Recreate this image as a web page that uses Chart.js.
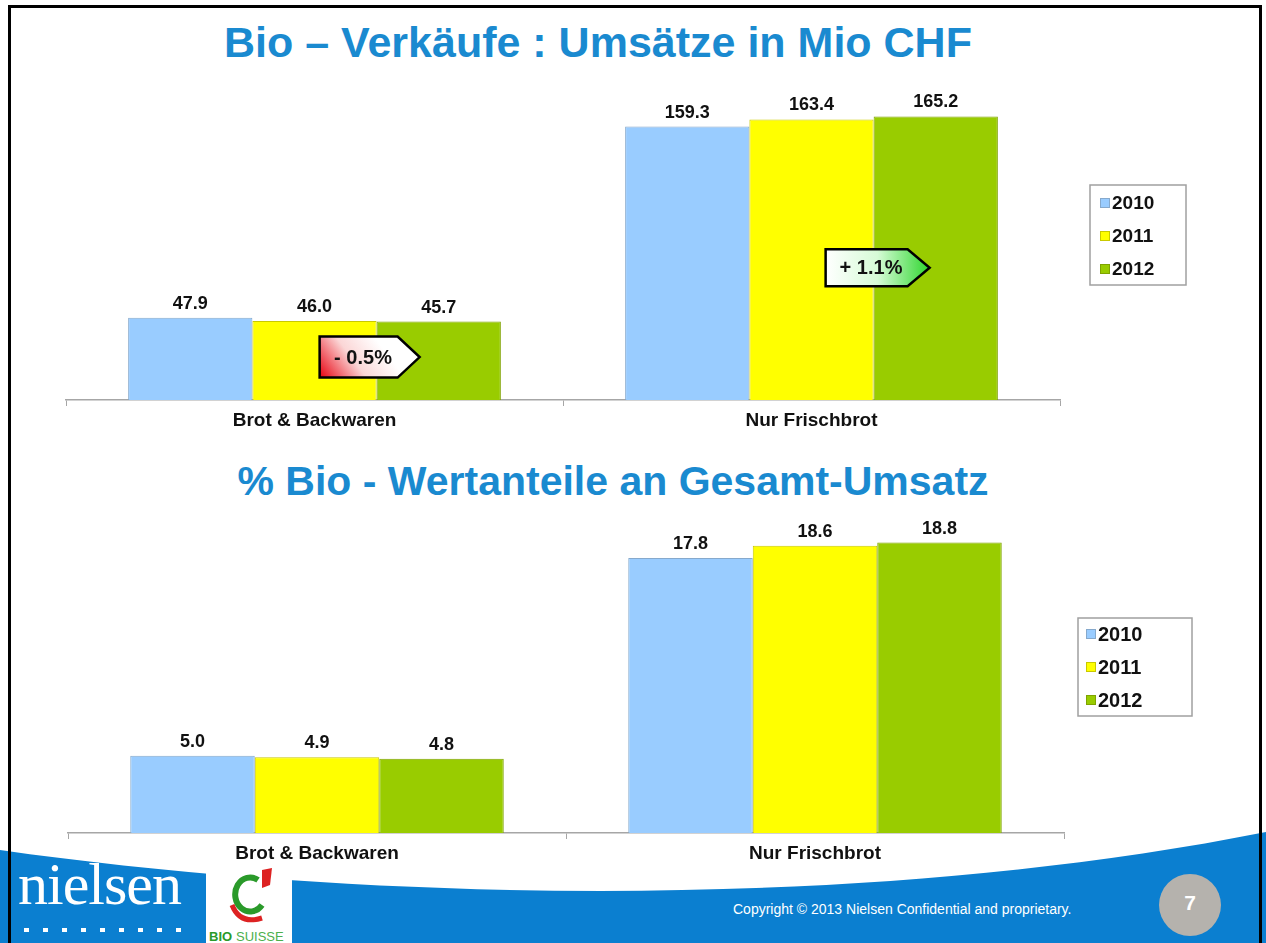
<!DOCTYPE html>
<html>
<head>
<meta charset="utf-8">
<script src="https://cdn.jsdelivr.net/npm/chart.js@4.4.1/dist/chart.umd.min.js"></script>
<style>
  html, body { margin: 0; padding: 0; background: #fff; }
  body { width: 1266px; height: 943px; position: relative; overflow: hidden; font-family: "Liberation Sans", Arial, sans-serif; }
  .frame { position: absolute; left: 8px; top: 5px; width: 1248px; height: 960px; border: 3px solid #000; z-index: 5; pointer-events: none; }
  .title { position: absolute; left: 0; width: 1266px; text-align: center; color: #1a8ad0; font-weight: bold; white-space: nowrap; }
  #footer { position: absolute; left: 0; top: 0; width: 1266px; height: 943px; z-index: 0; }
  canvas { position: absolute; z-index: 2; }
  .nielsen { position: absolute; left: 18px; top: 850px; color: #fff; font-family: "Liberation Serif", "DejaVu Serif", serif; font-size: 60px; z-index: 3; letter-spacing: -1px; }
  .copy { position: absolute; left: 733px; top: 901px; color: #fff; font-size: 14px; z-index: 3; }
  .page { position: absolute; left: 1160px; top: 891px; width: 60px; text-align: center; color: #fff; font-size: 21px; font-weight: bold; z-index: 3; }
</style>
</head>
<body>
<svg id="footer" width="1266" height="943">
  <path d="M0,850 C 350,900 850,915 1266,832 L1266,943 L0,943 Z" fill="#0b7fd0"/>
  <g fill="#fff">
    <rect x="24" y="928" width="5" height="4"/><rect x="43" y="928" width="5" height="4"/>
    <rect x="62" y="928" width="5" height="4"/><rect x="81" y="928" width="5" height="4"/>
    <rect x="100" y="928" width="5" height="4"/><rect x="119" y="928" width="5" height="4"/>
    <rect x="138" y="928" width="5" height="4"/><rect x="157" y="928" width="5" height="4"/>
    <rect x="176" y="928" width="5" height="4"/>
  </g>
  <rect x="206" y="862" width="86" height="81" fill="#fff"/>
  <path d="M258,880 A15,17 0 1 0 262,905" fill="none" stroke="#2a9a2a" stroke-width="6"/>
  <path d="M232,905 Q 240,925 262,918" fill="none" stroke="#d22" stroke-width="5"/>
  <path d="M262,870 L272,868 L270,885 L262,888 Z" fill="#d22"/>
  <text x="209" y="941" font-family="Liberation Sans, Arial" font-size="13" font-weight="bold" fill="#2a9a2a">BIO</text>
  <text x="236" y="941" font-family="Liberation Sans, Arial" font-size="13" fill="#4cb04c">SUISSE</text>
  <circle cx="1190" cy="905" r="31" fill="#b5b2ad"/>
</svg>
<div class="nielsen">nielsen</div>
<div class="copy">Copyright © 2013 Nielsen Confidential and proprietary.</div>
<div class="page">7</div>

<div class="title" style="top:18px;font-size:43px;left:-35px;">Bio – Verkäufe : Umsätze in Mio CHF</div>
<div class="title" style="top:458px;font-size:41px;left:-20px;">% Bio - Wertanteile an Gesamt-Umsatz</div>

<canvas id="salesChart" style="left:0;top:60px;" width="1266" height="380"></canvas>
<canvas id="shareChart" style="left:0;top:500px;" width="1266" height="380"></canvas>
<div class="frame"></div>

<script>
// categories and years
const categories = ['Brot & Backwaren', 'Nur Frischbrot'];
const years = ['2010', '2011', '2012'];

// Bio sales, Mio CHF
const sales2010 = [47.9, 159.3];
const sales2011 = [46.0, 163.4];
const sales2012 = [45.7, 165.2];

// Bio value share of total, %
const share2010 = [5.0, 17.8];
const share2011 = [4.9, 18.6];
const share2012 = [4.8, 18.8];

// change 2011 -> 2012 callouts (top chart)
const changeLabels = ['- 0.5%', '+ 1.1%'];

const barColors = ['#99CCFF', '#FFFF00', '#99CC00'];
const barBorders = ['#86a9cc', '#c9c900', '#7fa300'];
const FONT = '"Liberation Sans", Arial, sans-serif';

// value labels above each bar
const valueLabels = {
    id: 'valueLabels',
    afterDatasetsDraw(chart) {
        const ctx = chart.ctx;
        ctx.save();
        ctx.font = 'bold 18px ' + FONT;
        ctx.fillStyle = '#111';
        ctx.textAlign = 'center';
        ctx.textBaseline = 'bottom';
        chart.data.datasets.forEach((ds, i) => {
            chart.getDatasetMeta(i).data.forEach((bar, j) => {
                ctx.fillText(ds.data[j].toFixed(1), bar.x, bar.y - 5);
            });
        });
        ctx.restore();
    }
};

// framed legend drawn next to the plot
const boxLegend = {
    id: 'boxLegend',
    afterDraw(chart, args, opts) {
        const ctx = chart.ctx;
        const a = chart.chartArea;
        const x = a.right + opts.dx, y = a.top + opts.dy;
        ctx.save();
        ctx.fillStyle = '#fff';
        ctx.strokeStyle = '#a0a0a0';
        ctx.lineWidth = 1.5;
        ctx.fillRect(x, y, opts.w, opts.h);
        ctx.strokeRect(x, y, opts.w, opts.h);
        ctx.font = 'bold ' + opts.fontSize + 'px ' + FONT;
        ctx.textBaseline = 'middle';
        chart.data.datasets.forEach((ds, i) => {
            const cy = y + opts.firstRow + i * opts.rowGap;
            ctx.fillStyle = ds.backgroundColor;
            ctx.fillRect(x + opts.pad, cy - 5, 10, 10);
            ctx.strokeStyle = ds.borderColor;
            ctx.lineWidth = 1;
            ctx.strokeRect(x + opts.pad + 0.5, cy - 4.5, 9, 9);
            ctx.fillStyle = '#111';
            ctx.fillText(ds.label, x + opts.pad + 12, cy + 1);
        });
        ctx.restore();
    }
};

// arrow-shaped change callouts at the 2011/2012 boundary
const changeCallouts = {
    id: 'changeCallouts',
    afterDatasetsDraw(chart, args, opts) {
        if (!opts.labels) return;
        const ctx = chart.ctx;
        const yScale = chart.scales.y;
        const meta = chart.getDatasetMeta(1);
        opts.labels.forEach((txt, i) => {
            const bar = meta.data[i];
            const edge = bar.x + bar.width / 2;
            const left = edge + opts.dx[i];
            const cy = yScale.getPixelForValue(opts.at[i]);
            const w = opts.w[i], h = opts.h[i], tip = 22;
            const top = cy - h / 2, bot = cy + h / 2;
            ctx.save();
            ctx.beginPath();
            ctx.moveTo(left, top);
            ctx.lineTo(left + w, top);
            ctx.lineTo(left + w + tip, cy);
            ctx.lineTo(left + w, bot);
            ctx.lineTo(left, bot);
            ctx.closePath();
            let g;
            if (txt.trim().startsWith('-')) {
                g = ctx.createLinearGradient(left, bot, left + w * 0.7, top);
                g.addColorStop(0, '#e8000e');
                g.addColorStop(0.55, '#fbd6d6');
                g.addColorStop(1, '#ffffff');
            } else {
                g = ctx.createLinearGradient(left, cy, left + w + tip, cy);
                g.addColorStop(0, '#ffffff');
                g.addColorStop(0.5, '#d6fbd6');
                g.addColorStop(1, '#2ed62e');
            }
            ctx.fillStyle = g;
            ctx.fill();
            ctx.lineWidth = 2.5;
            ctx.strokeStyle = '#000';
            ctx.lineJoin = 'miter';
            ctx.stroke();
            ctx.font = 'bold 20px ' + FONT;
            ctx.fillStyle = '#111';
            ctx.textAlign = 'center';
            ctx.textBaseline = 'middle';
            ctx.fillText(txt, left + (w + tip * 0.4) / 2, cy + 1);
            ctx.restore();
        });
    }
};

function makeDatasets(series) {
    return series.map((data, i) => ({
        label: years[i],
        data: data,
        backgroundColor: barColors[i],
        borderColor: barBorders[i],
        borderWidth: 1,
        categoryPercentage: 0.75,
        barPercentage: 1.0
    }));
}

function makeChart(id, series, yMax, padding, legendOpts, calloutOpts) {
    return new Chart(document.getElementById(id), {
        type: 'bar',
        data: { labels: categories, datasets: makeDatasets(series) },
        options: {
            responsive: false,
            animation: false,
            layout: { padding: padding },
            plugins: {
                legend: { display: false },
                tooltip: { enabled: false },
                boxLegend: legendOpts,
                changeCallouts: calloutOpts
            },
            scales: {
                x: {
                    afterFit(scale) { scale.height = 40; },
                    grid: { offset: true, drawOnChartArea: false, drawTicks: true, tickLength: 6, color: '#a6a6a6' },
                    border: { color: '#a6a6a6', width: 1.5 },
                    ticks: { color: '#111', padding: 3, font: { family: FONT, size: 19, weight: 'bold' } }
                },
                y: { display: false, min: 0, max: yMax }
            }
        },
        plugins: [valueLabels, boxLegend, changeCallouts]
    });
}

makeChart('salesChart', [sales2010, sales2011, sales2012], 180,
    { left: 66, right: 206, top: 31, bottom: 0 },
    { dx: 30, dy: 94, w: 96, h: 100, pad: 10, firstRow: 18, rowGap: 33, fontSize: 19 },
    { labels: changeLabels, at: [25, 77], dx: [-57, -48], w: [78, 82], h: [41, 37] });

makeChart('shareChart', [share2010, share2011, share2012], 20,
    { left: 68, right: 202, top: 24, bottom: 7 },
    { dx: 14, dy: 94, w: 114, h: 98, pad: 8, firstRow: 16, rowGap: 33, fontSize: 20 },
    {});
</script>
</body>
</html>
